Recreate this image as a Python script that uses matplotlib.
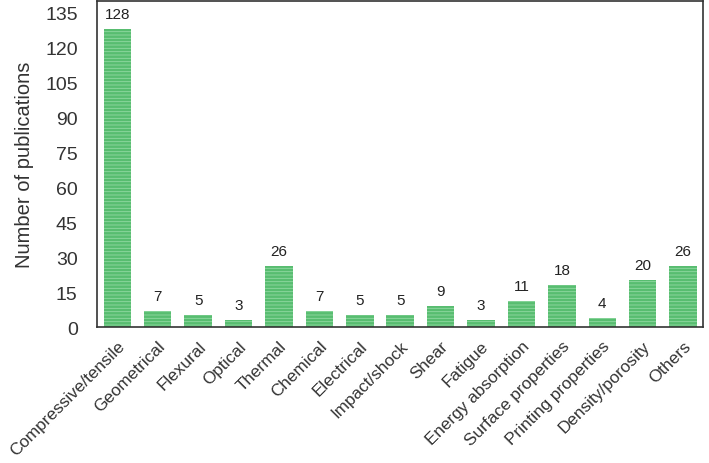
"""
Bar chart: number of publications per property category.
"""

import matplotlib.pyplot as plt
import numpy as np

plt.rcParams['font.family'] = ['Liberation Sans', 'DejaVu Sans']

# Categories and counts
CATEGORIES = ['Compressive/tensile', 'Geometrical', 'Flexural', 'Optical', 'Thermal',
              'Chemical', 'Electrical', 'Impact/shock', 'Shear', 'Fatigue',
              'Energy absorption', 'Surface properties', 'Printing properties',
              'Density/porosity', 'Others']
COUNTS = [128, 7, 5, 3, 26, 7, 5, 5, 9, 3, 11, 18, 4, 20, 26]
Y_TICKS = [0, 15, 30, 45, 60, 75, 90, 105, 120, 135]


def main():
    fig = plt.figure(figsize=(7.09, 4.64), dpi=100)
    ax = fig.add_axes([0.137, 0.293, 0.855, 0.703])

    x = np.arange(len(CATEGORIES))
    plt.rcParams['hatch.linewidth'] = 0.6
    bars = ax.bar(x, COUNTS, width=0.68, color='#58bd70', edgecolor='#92d9a3',
                  hatch='-----', linewidth=0)

    for rect, val in zip(bars, COUNTS):
        ax.text(rect.get_x() + rect.get_width() / 2, val + 3.5, str(val),
                ha='center', va='bottom', fontsize=11, color='#222222')

    ax.set_xlim(-0.5, len(CATEGORIES) - 0.5)
    ax.set_ylim(0, 140)
    ax.set_yticks(Y_TICKS)
    ax.tick_params(axis='y', length=0, labelsize=14, pad=14, labelcolor='#333333')
    ax.tick_params(axis='x', length=0, labelsize=12.3, pad=8, labelcolor='#333333')
    ax.set_xticks(x)
    ax.set_xticklabels(CATEGORIES, rotation=45, ha='right', rotation_mode='anchor')
    ax.set_ylabel('Number of publications', fontsize=14.5, color='#333333', labelpad=8)

    for spine in ax.spines.values():
        spine.set_color('#333333')
        spine.set_linewidth(1.2)

    fig.savefig('out.png', dpi=100)
    plt.close(fig)


if __name__ == "__main__":
    main()
